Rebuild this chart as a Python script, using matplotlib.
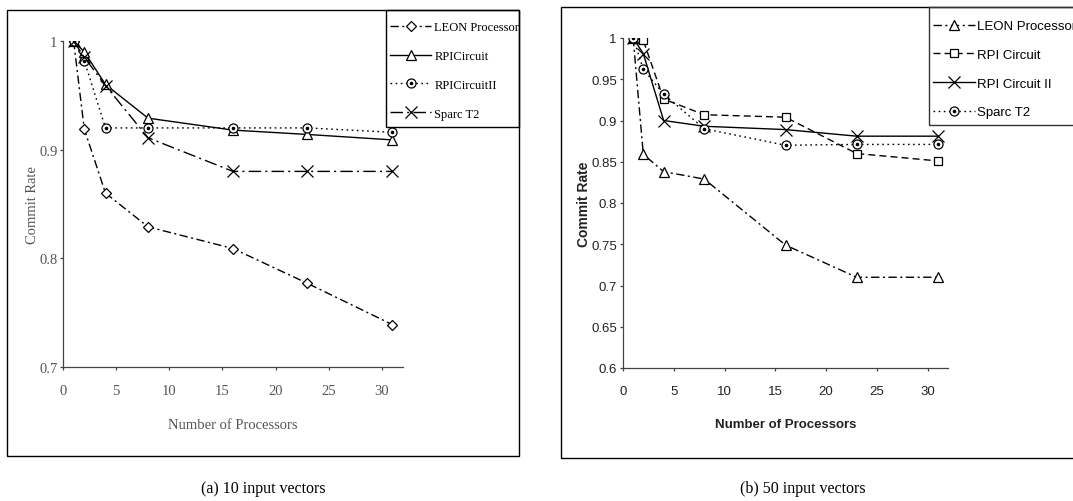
import matplotlib
matplotlib.use('Agg')
import matplotlib.pyplot as plt
from matplotlib.patches import Rectangle
from matplotlib.legend_handler import HandlerTuple

# shared x values (number of processors)
procs = [1, 2, 4, 8, 16, 23, 31]

# (a) 10 input vectors
a_leon = [1.0, 0.919, 0.860, 0.829, 0.809, 0.777, 0.739]
a_rpi = [1.0, 0.990, 0.960, 0.929, 0.918, 0.914, 0.909]
a_rpi2 = [1.0, 0.982, 0.920, 0.920, 0.920, 0.920, 0.916]
a_sparc = [1.0, 0.985, 0.959, 0.911, 0.880, 0.880, 0.880]

# (b) 50 input vectors
b_leon = [1.0, 0.859, 0.838, 0.829, 0.749, 0.710, 0.710]
b_rpi = [1.0, 0.997, 0.926, 0.907, 0.904, 0.860, 0.851]
b_rpi2 = [1.0, 0.981, 0.900, 0.893, 0.889, 0.881, 0.881]
b_sparc = [1.0, 0.962, 0.932, 0.890, 0.870, 0.871, 0.871]

W, H = 1073, 502
fig = plt.figure(figsize=(W / 100, H / 100), dpi=100)
fig.patch.set_facecolor('white')

serif = ['Liberation Serif', 'DejaVu Serif']
narrow = ['Liberation Sans Narrow', 'Liberation Sans', 'DejaVu Sans']


def px_axes(l, t, r, b):
    return fig.add_axes([l / W, 1 - b / H, (r - l) / W, (b - t) / H])


def px_box(l, t, r, b, color='black'):
    # frame drawn in figure pixels (top-left origin)
    fig.patches.append(Rectangle((l / W, 1 - b / H), (r - l) / W, (b - t) / H,
                                 transform=fig.transFigure, fill=False,
                                 ec=color, lw=1.0, zorder=5))


def style_axes(ax, fam, color, size, ypad):
    for s in ['top', 'right']:
        ax.spines[s].set_visible(False)
    for s in ['left', 'bottom']:
        ax.spines[s].set_color('#444444')
        ax.spines[s].set_linewidth(0.9)
    ax.tick_params(direction='out', length=2.5, width=0.9, colors='#444444',
                   labelcolor=color, labelsize=size)
    ax.tick_params(axis='x', pad=10)
    ax.tick_params(axis='y', pad=ypad)
    for lab in ax.get_xticklabels() + ax.get_yticklabels():
        lab.set_family(fam)


def dotted_circle(ax, x, y, ls):
    a = ax.plot(x, y, color='black', lw=1.0, ls=ls, marker='o', ms=6.5,
                mfc='white', mec='black', mew=0.9)[0]
    b = ax.plot(x, y, ls='none', marker='o', ms=1.6, color='black')[0]
    return (a, b)


mk = dict(color='black', lw=1.0, ms=7, mfc='white', mec='black', mew=0.9)
tup = {tuple: HandlerTuple(ndivide=1, pad=0)}

# outer frames
px_box(7, 11, 519, 457)
px_box(561, 8, 1085, 459)

# ---- panel (a)
ax1 = px_axes(63, 42, 403, 368)
h1 = ax1.plot(procs, a_leon, ls=(0, (6, 2.5, 1.5, 2.5)), marker='D', **dict(mk, ms=5.5))[0]
h2 = ax1.plot(procs, a_rpi, ls='-', marker='^', **mk)[0]
h3 = dotted_circle(ax1, procs, a_rpi2, (0, (1.2, 2.5)))
h4 = ax1.plot(procs, a_sparc, ls=(0, (9, 3, 1.5, 3)), marker='x', **dict(mk, ms=8))[0]
ax1.set_xlim(0, 32)
ax1.set_ylim(0.7, 1.0)
ax1.set_xticks([0, 5, 10, 15, 20, 25, 30])
ax1.set_yticks([0.7, 0.8, 0.9, 1.0])
ax1.set_yticklabels(['0.7', '0.8', '0.9', '1'])
style_axes(ax1, serif, '#555555', 10.5, 1.5)
ax1.set_xlabel('Number of Processors', family=serif, fontsize=10.5,
               color='#555555', labelpad=15)
ax1.set_ylabel('Commit Rate', family=serif, fontsize=10.5, color='#555555',
               labelpad=0)

px_box(386, 11, 519, 128)
leg1 = fig.legend([h1, h2, h3, h4],
                  ['LEON Processor', 'RPICircuit', 'RPICircuitII', 'Sparc T2'],
                  loc='upper left', bbox_to_anchor=(390 / W, 1 - 22 / H),
                  handler_map=tup, numpoints=1,
                  prop={'family': serif, 'size': 9}, frameon=False,
                  borderaxespad=0, labelspacing=1.35, handlelength=3.3,
                  handletextpad=0.25, borderpad=0)

# ---- panel (b)
ax2 = px_axes(623, 39, 948, 369)
g1 = ax2.plot(procs, b_leon, ls=(0, (6, 2.5, 1.5, 2.5)), marker='^', **mk)[0]
g2 = ax2.plot(procs, b_rpi, ls=(0, (5, 3)), marker='s', **dict(mk, ms=6))[0]
g3 = ax2.plot(procs, b_rpi2, ls='-', marker='x', **dict(mk, ms=8))[0]
g4 = dotted_circle(ax2, procs, b_sparc, (0, (1.2, 2.5)))
ax2.set_xlim(0, 32)
ax2.set_ylim(0.6, 1.0)
ax2.set_xticks([0, 5, 10, 15, 20, 25, 30])
ax2.set_yticks([0.6, 0.65, 0.7, 0.75, 0.8, 0.85, 0.9, 0.95, 1.0])
ax2.set_yticklabels(['0.6', '0.65', '0.7', '0.75', '0.8', '0.85', '0.9',
                     '0.95', '1'])
style_axes(ax2, narrow, '#222222', 9.5, 2)
ax2.set_xlabel('Number of Processors', family=narrow, fontsize=9.5,
               fontweight='bold', color='#222222', labelpad=15)
ax2.set_ylabel('Commit Rate', family=narrow, fontsize=10, fontweight='bold',
               color='#222222', labelpad=0)

px_box(929, 8, 1085, 126, color='#333333')
leg2 = fig.legend([g1, g2, g3, g4],
                  ['LEON Processor', 'RPI Circuit', 'RPI Circuit II', 'Sparc T2'],
                  loc='upper left', bbox_to_anchor=(933 / W, 1 - 21 / H),
                  handler_map=tup, numpoints=1,
                  prop={'family': narrow, 'size': 9.5}, frameon=False,
                  borderaxespad=0, labelspacing=1.25, handlelength=3.2,
                  handletextpad=0.15, borderpad=0)
for leg in (leg1, leg2):
    leg.set_zorder(6)

# captions
fig.text(263 / W, 1 - 489 / H, '(a) 10 input vectors', family=serif,
         fontsize=11.5, ha='center', va='center')
fig.text(803 / W, 1 - 489 / H, '(b) 50 input vectors', family=serif,
         fontsize=11.5, ha='center', va='center')

fig.savefig('out.png', dpi=100)
